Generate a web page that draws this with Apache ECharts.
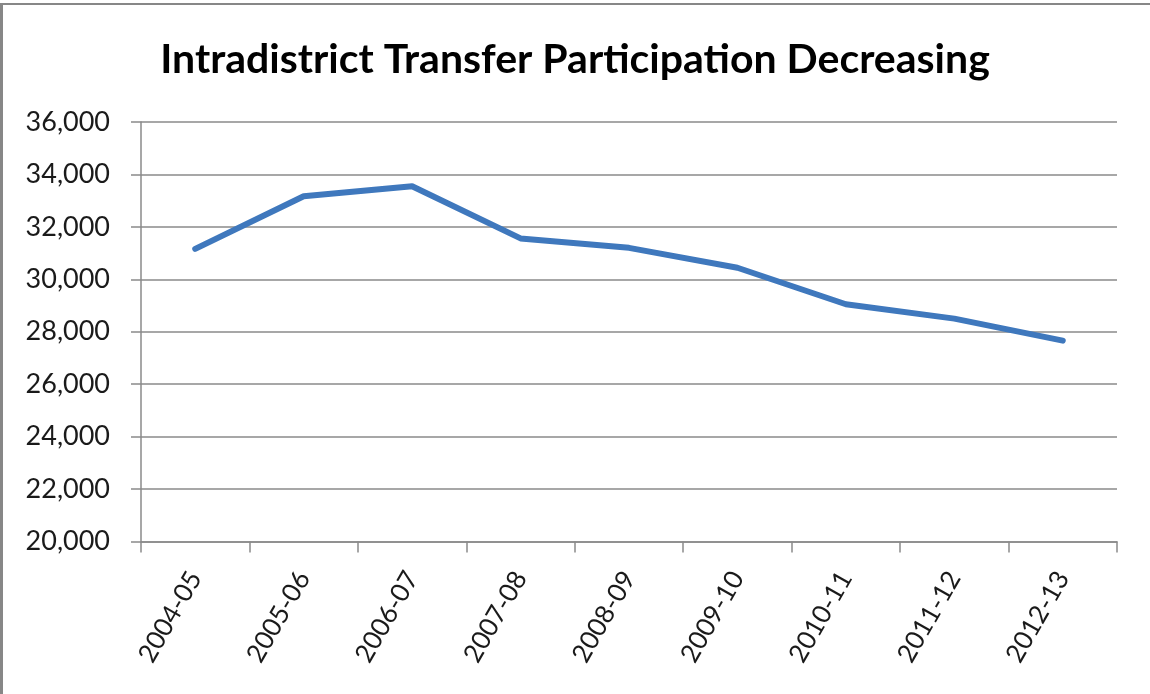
<!DOCTYPE html>
<html>
<head>
<meta charset="utf-8">
<script src="https://cdn.jsdelivr.net/npm/echarts@6/dist/echarts.min.js"></script>
<style>
html,body{margin:0;padding:0;background:#fff;}
#chart{width:1150px;height:694px;}
</style>
</head>
<body>
<div id="chart"></div>
<script>
const titleText = 'Intradistrict Transfer Participation Decreasing';
const categories = ['2004-05','2005-06','2006-07','2007-08','2008-09','2009-10','2010-11','2011-12','2012-13'];
const participation = [31160, 33170, 33550, 31560, 31200, 30440, 29050, 28500, 27660];
const yMin = 20000, yMax = 36000, yStep = 2000;

const chart = echarts.init(document.getElementById('chart'), null, {renderer: 'canvas'});
const FONT = 'Lato, "Liberation Sans", sans-serif';
chart.setOption({
  animation: false,
  backgroundColor: '#ffffff',
  title: {
    text: titleText,
    left: 'center',
    top: 34,
    textStyle: {fontFamily: FONT, fontWeight: 'bold', fontSize: 41, color: '#000000'}
  },
  graphic: [
    {type: 'line', shape: {x1: 1.5, y1: 3, x2: 1.5, y2: 700}, style: {stroke: '#878787', lineWidth: 3}},
    {type: 'line', shape: {x1: 0, y1: 4, x2: 1150, y2: 4}, style: {stroke: '#878787', lineWidth: 2}}
  ],
  grid: {left: 141, right: 33, top: 122, bottom: 152.5, containLabel: false},
  xAxis: {
    type: 'category',
    data: categories,
    boundaryGap: true,
    axisLine: {show: true, lineStyle: {color: '#8a8a8a', width: 1.5}},
    axisTick: {show: true, length: 11, alignWithLabel: false, lineStyle: {color: '#8a8a8a', width: 1.5}},
    axisLabel: {rotate: 60, margin: 32, fontFamily: FONT, fontSize: 26, color: '#1a1a1a', interval: 0}
  },
  yAxis: {
    type: 'value',
    min: yMin, max: yMax, interval: yStep,
    axisLine: {show: true, lineStyle: {color: '#8a8a8a', width: 1.5}},
    axisTick: {show: true, length: 10, lineStyle: {color: '#8a8a8a', width: 1.5}},
    splitLine: {show: true, lineStyle: {color: '#8a8a8a', width: 1.5}},
    axisLabel: {
      margin: 31, fontFamily: FONT, fontSize: 27, color: '#1a1a1a',
      formatter: v => v.toLocaleString('en-US')
    }
  },
  series: [{
    type: 'line',
    data: participation,
    symbol: 'none',
    lineStyle: {color: '#3f78bd', width: 6, cap: 'round', join: 'round'},
    itemStyle: {color: '#3f78bd'}
  }]
});
</script>
</body>
</html>
